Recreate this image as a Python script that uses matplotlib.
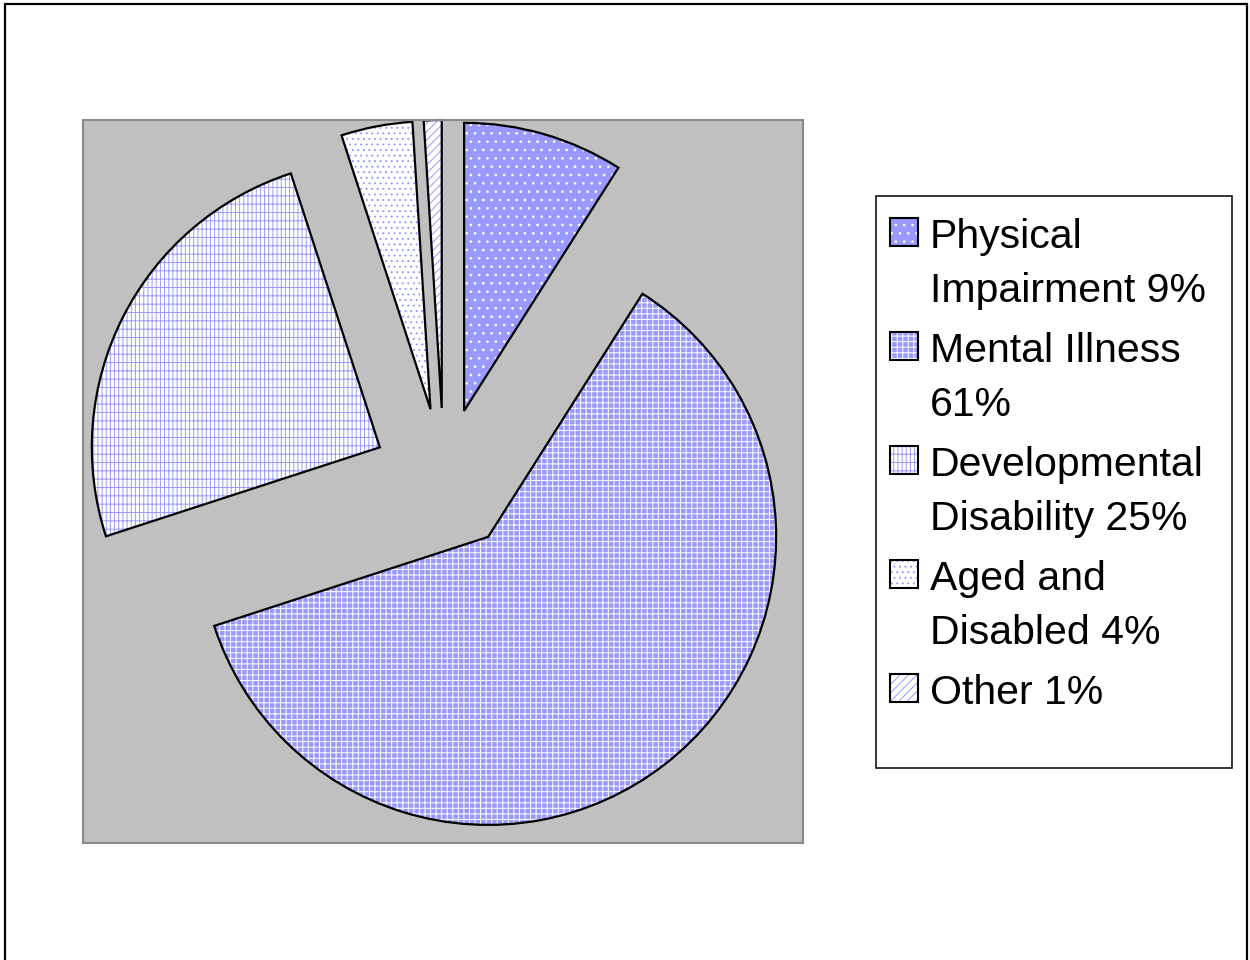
import textwrap
import matplotlib
matplotlib.use('Agg')
import matplotlib.pyplot as plt
from matplotlib.patches import Rectangle

# data
categories = ['Physical Impairment', 'Mental Illness', 'Developmental Disability',
              'Aged and Disabled', 'Other']
shares = [9, 61, 25, 4, 1]

# fill styles (old Excel pattern fills, approximated with hatches)
blue = '#9999FF'
faces = [blue, blue, 'white', 'white', 'white']
hatch_cols = ['white', 'white', blue, blue, blue]
hatches = ['..', '+++', '||++', '...', '////']

plt.rcParams['font.family'] = ['Liberation Sans', 'DejaVu Sans']
plt.rcParams['hatch.linewidth'] = 0.7

W, H = 1250, 960
fig = plt.figure(figsize=(W / 100, H / 100), dpi=100)

# plot area (grey box)
ax = fig.add_axes([83 / W, 1 - 843 / H, 720 / W, 723 / H])
ax.set_facecolor('#C0C0C0')

explode = [0.25] * len(shares)
wedges, _ = ax.pie(shares, explode=explode, startangle=90, counterclock=False,
                   radius=1, colors=faces, frame=True,
                   wedgeprops=dict(linewidth=0))
for w, h, c in zip(wedges, hatches, hatch_cols):
    w.set_hatch(h)
    w.set_edgecolor(c)
# black outlines on top
ax.pie(shares, explode=explode, startangle=90, counterclock=False, radius=1,
       frame=True, wedgeprops=dict(fill=False, edgecolor='black', linewidth=1.6))

ax.set_aspect('auto')
ax.set_xlim(-361 / 288, 359 / 288)
ax.set_ylim(-363 / 288, 360 / 288)
ax.set_xticks([])
ax.set_yticks([])
for s in ax.spines.values():
    s.set_color('#8a8a8a')
    s.set_linestyle((0, (1, 1)))
    s.set_linewidth(1.5)

# legend, drawn by hand so the swatch sits next to the first line
fig.add_artist(Rectangle((876 / W, 1 - 768 / H), 356 / W, 572 / H,
                         transform=fig.transFigure, fill=False,
                         edgecolor='black', lw=1.1))
for i, (cat, pct) in enumerate(zip(categories, shares)):
    top = 218 + 114 * i
    label = textwrap.fill(f'{cat} {pct}%', 14)
    xy = (890 / W, 1 - (top + 28) / H)
    fig.add_artist(Rectangle(xy, 28 / W, 28 / H, transform=fig.transFigure,
                             facecolor=faces[i], edgecolor=hatch_cols[i],
                             hatch=hatches[i], lw=0))
    fig.add_artist(Rectangle(xy, 28 / W, 28 / H, transform=fig.transFigure,
                             fill=False, edgecolor='black', lw=1.5))
    fig.text(930 / W, 1 - top / H, label, fontsize=29.5, va='top', ha='left',
             linespacing=1.525)

# outer chart border (bottom edge falls outside the picture)
fig.add_artist(Rectangle((5 / W, -0.05), 1242 / W, 1.05 - 4 / H,
                         transform=fig.transFigure, fill=False,
                         edgecolor='black', lw=1.6, clip_on=False))

fig.savefig('out.png', dpi=100)
